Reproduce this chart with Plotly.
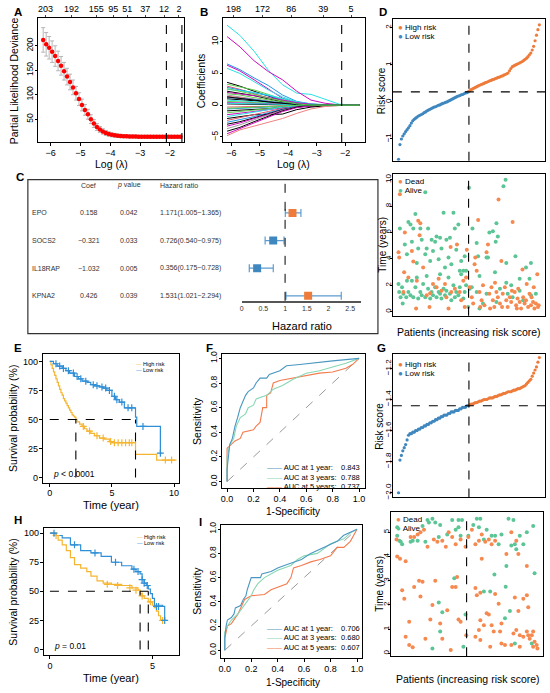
import plotly.graph_objects as go

W, H = 550, 693
FONT = "Arial, Liberation Sans, sans-serif"

# ---------------- A: cross-validation deviance ----------------
log_lambda = [-6.25, -6.15, -6.05, -5.95, -5.85, -5.75, -5.65, -5.55, -5.45, -5.35,
              -5.25, -5.15, -5.05, -4.95, -4.85, -4.75, -4.65, -4.55, -4.45, -4.35,
              -4.25, -4.15, -4.05, -3.95, -3.85, -3.75, -3.65, -3.55, -3.45, -3.35,
              -3.25, -3.15, -3.05, -2.95, -2.85, -2.75, -2.65, -2.55, -2.45, -2.35,
              -2.25, -2.15, -2.05, -1.95, -1.85, -1.75, -1.65]
deviance = [212, 203, 196, 188, 179, 169, 159, 148, 137, 126,
            115, 103, 91, 79, 69, 60, 50, 41, 34, 29,
            25, 22, 19.5, 18, 17, 16.2, 15.6, 15.2, 14.9, 14.7,
            14.5, 14.4, 14.3, 14.2, 14.2, 14.1, 14.1, 14.0, 14.0, 14.0,
            14.0, 14.0, 14.0, 14.0, 14.0, 14.0, 14.0]
deviance_err = [25, 24, 23, 22, 21, 20, 19, 18, 17, 16,
                15, 14, 13, 12, 11, 10, 9, 8, 7, 6,
                5.5, 5, 4.5, 4, 4, 3.5, 3.5, 3, 3, 3,
                3, 3, 3, 3, 3, 3, 3, 3, 3, 3,
                3, 3, 3, 3, 3, 3, 3]
nz_pos_a = [-6.17, -5.3, -4.47, -3.9, -3.43, -2.83, -2.2, -1.7]
nz_lab_a = ["203", "192", "155", "95", "51", "37", "12", "2"]
lambda_min = -2.12
lambda_1se = -1.6

# ---------------- B: coefficient paths ----------------
coef_knots = [-6.15, -5.7, -5.2, -4.7, -4.2, -3.7, -3.2, -2.7, -2.2, -1.5]
coef_paths = [
    [12.6, 11.0, 8.5, 5.5, 3.2, 1.9, 1.7, 0.9, 0.15, 0],
    [10.8, 9.2, 7.0, 5.3, 4.0, 2.2, 0.8, 0.3, 0.05, 0],
    [6.5, 5.6, 4.3, 3.1, 1.6, 0.6, 0.2, 0, 0, 0],
    [6.3, 5.4, 4.0, 2.6, 1.1, 0.4, 0.1, 0, 0, 0],
    [5.8, 5.0, 3.7, 2.4, 1.3, 0.5, 0.1, 0, 0, 0],
    [3.6, 3.0, 2.2, 1.4, 0.7, 0.2, 0, 0, 0, 0],
    [3.3, 2.9, 2.4, 1.7, 0.9, 0.3, 0, 0, 0, 0],
    [3.0, 2.5, 1.8, 1.1, 0.5, 0.1, 0, 0, 0, 0],
    [2.8, 2.4, 2.0, 1.5, 0.8, 0.3, 0.05, 0, 0, 0],
    [2.5, 2.3, 2.0, 1.6, 1.0, 0.5, 0.2, 0.05, 0, 0],
    [2.2, 1.9, 1.5, 1.0, 0.5, 0.2, 0, 0, 0, 0],
    [2.0, 1.8, 1.5, 1.2, 0.8, 0.4, 0.15, 0.05, 0, 0],
    [1.8, 1.6, 1.2, 0.8, 0.4, 0.1, 0, 0, 0, 0],
    [1.6, 1.3, 1.0, 0.7, 0.3, 0.1, 0, 0, 0, 0],
    [1.4, 1.2, 0.9, 0.6, 0.3, 0.1, 0, 0, 0, 0],
    [1.2, 1.1, 0.9, 0.6, 0.35, 0.15, 0.05, 0, 0, 0],
    [1.0, 0.9, 0.7, 0.5, 0.3, 0.1, 0.05, 0.02, 0.01, 0],
    [0.8, 0.7, 0.55, 0.4, 0.2, 0.05, 0, 0, 0, 0],
    [0.6, 0.5, 0.4, 0.3, 0.15, 0.05, 0, 0, 0, 0],
    [0.4, 0.35, 0.3, 0.2, 0.1, 0.03, 0, 0, 0, 0],
    [0.2, 0.2, 0.15, 0.1, 0.05, 0, 0, 0, 0, 0],
    [-0.3, -0.25, -0.2, -0.15, -0.08, -0.02, 0, 0, 0, 0],
    [-0.6, -0.5, -0.4, -0.3, -0.15, -0.05, 0, 0, 0, 0],
    [-0.9, -0.8, -0.7, -0.55, -0.35, -0.2, -0.1, -0.05, -0.02, 0],
    [-1.2, -1.0, -0.8, -0.6, -0.3, -0.1, 0, 0, 0, 0],
    [-1.5, -1.3, -1.0, -0.7, -0.4, -0.2, -0.1, -0.03, 0, 0],
    [-1.8, -1.5, -1.1, -0.7, -0.3, -0.1, 0, 0, 0, 0],
    [-2.1, -1.8, -1.5, -1.5, -1.4, -0.7, -0.3, -0.1, -0.03, 0],
    [-2.4, -2.0, -1.5, -1.0, -0.5, -0.2, 0, 0, 0, 0],
    [-2.7, -2.3, -1.8, -1.2, -0.6, -0.2, 0, 0, 0, 0],
    [-3.0, -2.6, -2.0, -1.3, -0.7, -0.3, -0.1, 0, 0, 0],
    [-3.3, -2.8, -2.1, -1.4, -0.8, -0.3, -0.05, 0, 0, 0],
    [-3.7, -3.1, -2.3, -1.5, -0.8, -0.3, 0, 0, 0, 0],
    [-4.1, -3.5, -2.6, -1.7, -0.9, -0.3, 0, 0, 0, 0],
    [-4.8, -3.9, -3.3, -2.7, -2.1, -1.3, -0.6, -0.2, -0.05, 0],
    [-4.5, -3.7, -2.8, -1.8, -1.0, -0.4, -0.1, 0, 0, 0],
    [-0.5, -0.4, -0.3, -0.2, -0.1, -0.03, 0, 0, 0, 0],
    [0.3, 0.25, 0.2, 0.15, 0.1, 0.04, 0.01, 0, 0, 0],
    [1.3, 1.1, 0.8, 0.5, 0.25, 0.1, 0, 0, 0, 0],
    [2.6, 2.2, 1.7, 1.1, 0.6, 0.2, 0, 0, 0, 0],
]
nz_pos_b = [-5.92, -4.9, -3.89, -2.77, -1.79]
nz_lab_b = ["198", "172", "86", "39", "5"]

# R 4 palette colours for the paths
BLK, PNK, GRN, BLU, CYN, MAG, GRY = "#000000", "#DF536B", "#61D04F", "#2297E6", "#28E2E5", "#CD0BBC", "#9E9E9E"
coef_colors = [CYN, MAG, BLU, MAG, CYN, BLK, GRN, PNK, BLU, CYN,
               BLK, MAG, GRN, GRY, PNK, BLU, BLK, CYN, GRN, MAG,
               BLK, PNK, BLU, BLK, GRN, MAG, CYN, BLK, PNK, BLU,
               BLK, MAG, GRY, BLK, "#F08080", MAG, GRN, CYN, BLK, GRN]

# ---------------- C: multivariate Cox ----------------
genes = ["EPO", "SOCS2", "IL18RAP", "KPNA2"]
coef_txt = ["0.158", "\u22120.321", "\u22121.032", "0.426"]
p_txt = ["0.042", "0.033", "0.005", "0.039"]
hr = [1.171, 0.726, 0.356, 1.531]
hr_lo = [1.005, 0.540, 0.175, 1.021]
hr_hi = [1.365, 0.975, 0.728, 2.294]
hr_ticks = [0, 0.5, 1, 1.5, 2, 2.5]

# ---------------- D / G: risk score curves (training / validation) ----------------
risk_d_low = [-1.55, -1.15, -1.0, -0.92, -0.86, -0.8, -0.75, -0.7, -0.64, -0.57,
              -0.51, -0.47, -0.44, -0.41, -0.38, -0.36, -0.34, -0.32, -0.29, -0.27,
              -0.24, -0.22, -0.2, -0.18, -0.16, -0.14, -0.13, -0.11, -0.09, -0.08,
              -0.06, -0.04, -0.03, -0.01, 0.0, 0.02, 0.04, 0.06, 0.08, 0.1,
              0.12, 0.14, 0.16, 0.17, 0.19, 0.2, 0.22, 0.24, 0.25, 0.27]
risk_d_high = [0.3, 0.33, 0.35, 0.37, 0.39, 0.41, 0.43, 0.45, 0.47, 0.48,
               0.5, 0.52, 0.53, 0.55, 0.57, 0.58, 0.6, 0.61, 0.63, 0.64,
               0.66, 0.67, 0.69, 0.7, 0.72, 0.74, 0.76, 0.78, 0.84, 0.9,
               0.95, 0.97, 0.99, 1.01, 1.03, 1.05, 1.07, 1.09, 1.12, 1.15,
               1.18, 1.22, 1.27, 1.32, 1.4, 1.5, 1.65, 1.8, 1.95, 2.08]
cut_d = 0.27
risk_g_low = [-2.0, -1.79, -1.76, -1.73, -1.71, -1.69, -1.66, -1.63, -1.62, -1.62,
              -1.61, -1.61, -1.6, -1.6, -1.59, -1.59, -1.58, -1.58, -1.57, -1.57,
              -1.56, -1.56, -1.55, -1.55, -1.54, -1.54, -1.53, -1.53, -1.52, -1.52,
              -1.51, -1.51, -1.5, -1.5, -1.5, -1.49, -1.49, -1.48, -1.48, -1.48,
              -1.47, -1.47, -1.47, -1.46, -1.46, -1.45, -1.45, -1.45, -1.44, -1.44]
risk_g_high = [-1.435, -1.43, -1.43, -1.425, -1.42, -1.42, -1.415, -1.41, -1.41, -1.405,
               -1.4, -1.4, -1.4, -1.395, -1.39, -1.39, -1.39, -1.385, -1.38, -1.38,
               -1.375, -1.37, -1.37, -1.365, -1.36, -1.36, -1.355, -1.35, -1.35, -1.35,
               -1.345, -1.34, -1.34, -1.335, -1.33, -1.33, -1.325, -1.32, -1.315, -1.31,
               -1.3, -1.29, -1.28, -1.27, -1.25, -1.23, -1.21, -1.19, -1.16, -1.13]
cut_g = -1.44

# ---------------- D / G: survival status by patient rank ----------------
d_dead_rank = [0, 1, 2, 7, 8, 9, 14, 19, 21, 25, 26, 28, 30, 31, 35, 40, 44, 45, 49, 54,
               57, 61, 66, 68, 71, 74, 75, 80, 83, 87, 89, 92, 94, 96, 97,
               101, 104, 106, 108, 109, 111, 113, 115, 116, 118, 120, 122, 125, 127, 129,
               130, 132, 134, 136, 137, 139, 141, 142, 144, 146, 147, 148, 151, 153, 155,
               158, 160, 161, 162, 165, 167, 168, 169, 170, 172, 174, 176, 177, 179, 181,
               182, 184, 186, 188, 189, 191, 192, 193, 195, 197, 198, 199]
d_dead_time = [4.5, 4.1, 8.9, 1.5, 3.0, 6.0, 2.6, 4.6, 3.8, 0.25, 2.35, 6.9, 5.8, 6.7, 3.35, 1.25, 0.37, 1.4, 2.1, 1.85,
               2.5, 1.6, 2.1, 1.1, 0.25, 4.9, 1.5, 1.75, 5.1, 1.5, 0.87, 2.35, 0.37, 2.6, 4.7,
               1.85, 1.1, 0.62, 3.6, 4.1, 3.1, 6.95, 1.5, 0.37, 0.87, 2.0, 0.5, 4.5, 5.1, 1.36,
               0.25, 1.86, 0.87, 0.37, 2.2, 1.5, 1.1, 8.5, 0.62, 3.85, 0.37, 1.36, 1.86, 0.87, 0.37,
               1.1, 0.74, 1.6, 6.8, 1.5, 0.5, 0.25, 1.0, 1.75, 0.74, 0.25, 3.2, 1.1, 0.62, 0.87,
               2.1, 0.37, 1.36, 0.5, 1.1, 0.74, 1.86, 0.25, 0.62, 2.85, 0.37, 0.5]
d_alive_rank = [0, 1, 2, 3, 5, 6, 7, 9, 11, 12, 12, 14, 14, 17, 17, 19, 19, 21, 21, 24,
                24, 26, 26, 28, 28, 31, 31, 33, 33, 35, 38, 38, 38, 40, 40, 42, 42, 45, 45, 47,
                47, 49, 49, 52, 52, 54, 54, 57, 57, 59, 59, 59, 61, 61, 64, 64, 66, 66, 68, 68,
                71, 71, 73, 73, 75, 75, 78, 78, 80, 80, 82, 82, 85, 85, 87, 87, 89, 89, 92, 92,
                94, 94, 96, 96,
                99, 100, 101, 104, 105, 111, 111, 113, 115, 115, 120, 125, 125, 127, 129, 134,
                137, 138, 139, 139, 141, 144, 149, 152, 153, 153, 155, 160, 162, 166, 172, 172,
                177, 181, 186, 188, 188, 195]
d_alive_time = [2.1, 1.5, 6.3, 1.1, 1.86, 0.62, 1.36, 5.1, 1.1, 4.35, 2.35, 6.8, 1.5, 6.6, 1.25, 5.3, 2.35, 6.3, 1.1, 7.4,
                1.86, 3.7, 2.6, 4.8, 1.0, 6.3, 1.5, 5.45, 1.25, 2.1, 9.05, 4.35, 1.1, 4.8, 2.7, 6.3, 1.75, 3.85, 1.0, 5.45,
                1.5, 4.6, 1.25, 5.3, 1.86, 5.7, 1.1, 3.97, 1.5, 5.6, 2.85, 1.36, 4.8, 1.0, 7.5, 1.75, 3.35, 1.25, 5.45, 1.6,
                4.1, 2.6, 5.6, 1.36, 3.6, 0.87, 7.5, 2.0, 6.3, 1.1, 4.7, 1.5, 6.6, 1.25, 3.1, 1.86, 3.85, 2.85, 3.1, 1.0,
                4.2, 1.5, 3.1, 2.0,
                0.37, 9.4, 1.75, 1.86, 6.3, 5.2, 1.5, 4.2, 2.7, 0.25, 0.62, 4.1, 1.36, 4.1, 6.0, 6.1,
                3.0, 5.3, 6.7, 0.74, 5.7, 1.75, 9.5, 10.0, 3.7, 2.2, 1.36, 2.0, 1.1, 4.2, 2.5, 1.6,
                0.87, 3.35, 2.5, 3.7, 1.25, 1.36]
g_dead_rank = [0, 1, 5, 8, 11, 13, 13, 18, 18, 20, 23, 25, 25, 30, 32, 34, 34, 37, 39, 41,
               44, 48, 51, 53, 55, 58, 62, 65, 65, 70, 72, 74, 77, 79, 79, 84, 84, 86, 88, 91,
               91, 98, 99, 102, 107, 112, 112, 112, 114, 117, 117, 119, 119, 119, 121, 121, 124, 126, 128, 131,
               131, 133, 135, 135, 138, 140, 140, 145, 147, 149, 149, 154, 156, 163, 163, 166, 168, 170, 170, 173,
               173, 175, 175, 180, 180, 185, 185, 185, 187, 187, 189, 192, 194, 194, 196, 199, 200]
g_dead_time = [4.7, 4.0, 3.9, 2.6, 2.25, 3.8, 0.68, 1.3, 0.34, 4.8, 0.25, 2.74, 4.8, 4.9, 3.0, 2.35, 5.0, 2.95, 5.1, 0.6,
               4.4, 1.4, 2.0, 4.7, 3.0, 4.6, 1.23, 0.6, 4.65, 4.4, 1.78, 5.0, 0.14, 2.74, 4.8, 2.74, 4.5, 3.15, 1.4, 1.3,
               4.7, 4.4, 0.75, 4.8, 5.1, 4.5, 2.7, 0.68, 2.4, 4.65, 0.96, 2.5, 1.37, 0.55, 4.9, 3.9, 1.16, 4.6, 1.65, 4.7,
               1.6, 0.27, 4.5, 1.16, 0.9, 4.65, 2.45, 2.05, 0.9, 1.23, 0.41, 0.34, 4.1, 5.0, 0.34, 0.82, 2.3, 4.65, 0.96, 4.1,
               1.75, 0.75, 0.27, 2.25, 0.68, 3.6, 2.4, 0.9, 1.9, 0.75, 0.6, 0.75, 0.9, 0.27, 0.48, 0.34, 0.2]
g_alive_rank = [1, 1, 4, 6, 8, 20, 23, 30, 37, 41, 44, 46, 51, 51, 55, 60, 60, 62, 62, 65,
                72, 79, 82, 84, 88, 88, 91, 93, 95, 98, 102, 109, 114, 117, 119, 124, 124, 128, 133, 135,
                139, 140, 145, 149, 154, 155, 156, 159, 161, 163, 166, 168, 168, 170, 175, 180, 185, 192, 194, 196]
g_alive_time = [5.2, 4.85, 4.65, 4.6, 4.5, 4.6, 4.65, 4.65, 5.25, 4.6, 5.5, 5.4, 5.55, 0.2, 5.4, 4.8, 2.1, 5.3, 0.9, 1.7,
                4.9, 5.5, 3.1, 5.1, 5.5, 5.2, 4.85, 5.5, 0.27, 1.6, 4.85, 5.3, 5.55, 5.2, 5.55, 4.7, 2.55, 5.1, 2.55, 4.85,
                3.25, 4.85, 4.5, 4.9, 1.45, 2.75, 3.6, 5.55, 1.75, 4.45, 5.5, 4.5, 0.41, 4.3, 4.85, 4.5, 5.0, 0.41, 5.25, 3.3]
rank_cut = 99.5

# ---------------- E / H: Kaplan-Meier ----------------
e_high_t = [0, 0.1, 0.2, 0.3, 0.4, 0.5, 0.6, 0.7, 0.8, 0.9, 1.0, 1.1, 1.2, 1.3, 1.4, 1.5, 1.6, 1.7,
            1.8, 1.9, 2.0, 2.1, 2.2, 2.4, 2.6, 2.8, 3.0, 3.3, 3.6, 4.0, 4.4, 4.8, 5.0, 6.9, 8.6, 10.2]
e_high_s = [100, 97, 94, 91, 88, 85, 82, 79, 76, 73, 71, 68, 66, 64, 62, 60, 58, 56,
            54, 53, 52, 50, 48, 46, 44, 42, 40, 38, 36, 34, 33, 31, 30, 20, 15, 15]
e_low_t = [0, 0.3, 0.6, 1.0, 1.3, 1.6, 2.0, 2.3, 2.6, 3.0, 3.3, 3.6, 4.0, 4.3, 4.6, 5.0,
           5.3, 5.6, 6.0, 6.8, 6.9, 7.0, 8.9, 9.0]
e_low_s = [100, 98, 96, 94, 92, 90, 87, 85, 83, 82, 80, 79, 78, 77, 75, 70,
           67, 65, 60, 60, 52, 44, 21, 21]
e_high_cens_t = [2.7, 3.2, 3.8, 4.3, 4.9, 5.2, 5.5, 5.8, 6.1, 6.4, 6.6, 9.3, 9.8]
e_high_cens_s = [44, 40, 36, 34, 31, 30, 30, 30, 30, 30, 30, 15, 15]
e_low_cens_t = [0.5, 0.8, 1.1, 1.5, 1.9, 2.2, 2.5, 2.9, 3.5, 3.8, 4.2, 4.5, 4.8, 5.2, 5.4, 5.8, 6.3, 6.6, 7.5, 8.9]
e_low_cens_s = [98, 96, 94, 92, 90, 87, 85, 83, 80, 79, 78, 77, 75, 70, 67, 65, 60, 60, 44, 21]
e_median = [2.1, 6.9]
e_pval = "<i>p</i> < 0.0001"

h_high_t = [0, 0.2, 0.4, 0.6, 0.8, 1.0, 1.2, 1.5, 1.8, 2.0, 2.3, 2.6, 3.0, 3.5, 4.0, 4.3,
            4.4, 4.5, 4.6, 4.8, 5.0, 5.1, 5.2, 5.3, 5.4, 5.7]
h_high_s = [100, 98, 94, 90, 85, 79, 73, 70, 67, 63, 59, 57, 56, 55, 53, 51,
            48, 46, 44, 41, 38, 36, 33, 29, 25, 25]
h_low_t = [0, 0.3, 0.6, 1.0, 1.5, 2.0, 2.5, 3.0, 3.5, 4.0, 4.2, 4.4, 4.5, 4.6, 4.7, 4.8,
           4.9, 5.0, 5.1, 5.5, 5.6]
h_low_s = [100, 98, 96, 90, 85, 83, 80, 75, 72, 69, 67, 65, 60, 57, 55, 52,
           48, 44, 38, 37, 25]
h_high_cens_t = [0.3, 2.8, 3.3, 3.9, 4.2, 4.5, 4.9, 5.5]
h_high_cens_s = [98, 56, 55, 53, 51, 46, 41, 25]
h_low_cens_t = [0.2, 1.2, 2.2, 3.2, 4.1, 4.3, 4.5, 4.6, 4.75, 5.2, 5.3, 5.6]
h_low_cens_s = [100, 90, 83, 75, 69, 67, 60, 57, 55, 37, 37, 25]
h_median = [4.4, 4.8]
h_pval = "<i>p</i> = 0.01"

# ---------------- F / I: time-dependent ROC ----------------
roc_years = ["AUC at 1 year:", "AUC at 3 years:", "AUC at 5 years:"]
auc_f = ["0.843", "0.788", "0.737"]
auc_i = ["0.706", "0.680", "0.607"]
f_fpr = [
    [0, 0, 0.01, 0.02, 0.04, 0.06, 0.08, 0.1, 0.12, 0.14, 0.16, 0.2, 0.22, 0.25, 0.3, 0.32, 0.4, 0.45, 0.55, 0.7, 0.8, 0.9, 1],
    [0, 0, 0.02, 0.05, 0.07, 0.1, 0.14, 0.16, 0.2, 0.22, 0.3, 0.35, 0.42, 0.45, 0.5, 0.6, 0.7, 0.8, 0.9, 1],
    [0, 0, 0.03, 0.06, 0.1, 0.12, 0.2, 0.22, 0.25, 0.27, 0.3, 0.3, 0.33, 0.35, 0.4, 0.5, 0.6, 0.7, 0.8, 0.9, 0.95, 1],
]
f_tpr = [
    [0, 0.1, 0.2, 0.3, 0.35, 0.45, 0.52, 0.6, 0.65, 0.7, 0.73, 0.76, 0.8, 0.84, 0.84, 0.87, 0.9, 0.94, 0.95, 0.97, 0.98, 0.99, 1],
    [0, 0.2, 0.3, 0.35, 0.45, 0.52, 0.55, 0.6, 0.62, 0.67, 0.7, 0.75, 0.78, 0.8, 0.83, 0.88, 0.9, 0.93, 0.96, 1],
    [0, 0.27, 0.3, 0.33, 0.35, 0.4, 0.42, 0.45, 0.48, 0.6, 0.6, 0.7, 0.72, 0.8, 0.82, 0.84, 0.86, 0.88, 0.89, 0.92, 0.95, 1],
]
i_fpr = [
    [0, 0, 0.01, 0.02, 0.05, 0.07, 0.08, 0.12, 0.14, 0.16, 0.17, 0.19, 0.2, 0.27, 0.28, 0.35, 0.4, 0.45, 0.5, 0.58, 0.65, 0.75, 0.85, 0.9, 1],
    [0, 0, 0.02, 0.05, 0.1, 0.15, 0.2, 0.22, 0.25, 0.3, 0.4, 0.5, 0.55, 0.6, 0.7, 0.8, 0.9, 0.95, 1],
    [0, 0, 0.02, 0.05, 0.1, 0.13, 0.15, 0.2, 0.3, 0.35, 0.4, 0.47, 0.5, 0.52, 0.58, 0.65, 0.72, 0.8, 0.85, 0.9, 0.95, 1],
]
i_tpr = [
    [0, 0.1, 0.2, 0.25, 0.27, 0.3, 0.35, 0.37, 0.42, 0.45, 0.5, 0.56, 0.6, 0.6, 0.63, 0.65, 0.68, 0.7, 0.72, 0.75, 0.8, 0.85, 0.9, 0.95, 1],
    [0, 0.15, 0.2, 0.25, 0.3, 0.38, 0.45, 0.5, 0.55, 0.6, 0.66, 0.7, 0.75, 0.78, 0.8, 0.88, 0.92, 0.97, 1],
    [0, 0.1, 0.2, 0.22, 0.3, 0.37, 0.42, 0.45, 0.46, 0.5, 0.52, 0.55, 0.6, 0.68, 0.7, 0.73, 0.75, 0.78, 0.85, 0.85, 0.9, 1],
]
chance = [0, 1]

# ---------------- colours ----------------
C_HIGH, C_LOW = "#EE7B3A", "#3F87BF"
C_DEAD, C_ALIVE = "#F5894F", "#5CC595"
KM_HIGH, KM_LOW = "#F6B530", "#2F8FD6"
ROC_COLS = ["#4A97C2", "#86D7B4", "#F47B4E"]


def dom_x(l, r):
    return [l / W, r / W]


def dom_y(t, b):
    return [1 - b / H, 1 - t / H]


def px(x):
    return x / W


def py(y):
    return 1 - y / H


def box_axis(**kw):
    d = dict(showline=True, linecolor="black", linewidth=1, mirror=True,
             ticks="outside", ticklen=3, tickcolor="black", showgrid=False,
             zeroline=False, ticklabelstandoff=-1, tickfont=dict(size=9, color="black", family=FONT))
    d.update(kw)
    return d


def rot_y(**kw):
    # R style: labels on the y axis turned to read upward, close to the axis
    d = box_axis(tickangle=-90, ticklen=2, ticklabelstandoff=-2,
                 tickfont=dict(size=8.5, color="black", family=FONT))
    d.update(kw)
    return d


fig = go.Figure()
annotations = []
shapes = []


def label(x, y, text, size=10.5, angle=0, anchor="center", color="black", bold=False):
    annotations.append(dict(x=px(x), y=py(y), xref="paper", yref="paper", text=("<b>%s</b>" % text) if bold else text,
                            showarrow=False, textangle=angle, xanchor=anchor, yanchor="middle",
                            font=dict(size=size, color=color, family=FONT)))


def vline(xref, x, yref_dom, y0=0, y1=1, color="black", width=1.1, dash="dash"):
    shapes.append(dict(type="line", xref=xref, yref=yref_dom, x0=x, x1=x, y0=y0, y1=y1,
                       line=dict(color=color, width=width, dash=dash)))


def hline(yref, y, xref_dom, x0=0, x1=1, color="black", width=1.1, dash="dash"):
    shapes.append(dict(type="line", yref=yref, xref=xref_dom, y0=y, y1=y, x0=x0, x1=x1,
                       line=dict(color=color, width=width, dash=dash)))


# ---- A ----
fig.add_trace(go.Scatter(x=log_lambda, y=deviance, mode="markers", xaxis="x", yaxis="y",
                         marker=dict(color="red", size=4.5),
                         error_y=dict(type="data", array=deviance_err, color="#B5B5B5", thickness=1, width=2)))
fig.add_trace(go.Scatter(x=log_lambda, y=deviance, mode="markers", xaxis="x12", yaxis="y",
                         marker=dict(opacity=0), hoverinfo="skip"))
vline("x", lambda_min, "y domain")
vline("x", lambda_1se, "y domain")

# ---- B ----
for path, col in zip(coef_paths, coef_colors):
    fig.add_trace(go.Scatter(x=coef_knots, y=path, mode="lines", xaxis="x2", yaxis="y2",
                             line=dict(color=col, width=1)))
fig.add_trace(go.Scatter(x=coef_knots, y=coef_paths[0], mode="markers", xaxis="x13", yaxis="y2",
                         marker=dict(opacity=0), hoverinfo="skip"))
vline("x2", lambda_min, "y2 domain")

# ---- D top / G top: risk curves ----
for risk_low, risk_high, xa, ya, cut in [(risk_d_low, risk_d_high, "x3", "y3", cut_d),
                                        (risk_g_low, risk_g_high, "x8", "y8", cut_g)]:
    n_low = len(risk_low)
    fig.add_trace(go.Scatter(x=list(range(n_low)), y=risk_low, mode="markers", xaxis=xa, yaxis=ya,
                             marker=dict(color=C_LOW, size=3.2)))
    fig.add_trace(go.Scatter(x=list(range(n_low, n_low + len(risk_high))), y=risk_high, mode="markers",
                             xaxis=xa, yaxis=ya, marker=dict(color=C_HIGH, size=3.2)))
    vline(xa, n_low - 0.5, ya + " domain")
    hline(ya, cut, xa + " domain")

# ---- D bottom / G bottom: status scatter ----
for dr, dt, ar, at, xa, ya in [(d_dead_rank, d_dead_time, d_alive_rank, d_alive_time, "x4", "y4"),
                               (g_dead_rank, g_dead_time, g_alive_rank, g_alive_time, "x9", "y9")]:
    fig.add_trace(go.Scatter(x=ar, y=at, mode="markers", xaxis=xa, yaxis=ya,
                             marker=dict(color=C_ALIVE, size=4)))
    fig.add_trace(go.Scatter(x=dr, y=dt, mode="markers", xaxis=xa, yaxis=ya,
                             marker=dict(color=C_DEAD, size=4)))
    vline(xa, rank_cut, ya + " domain")

# ---- C: forest ----
rows = list(range(len(genes) - 1, -1, -1))
fig.add_trace(go.Scatter(
    x=hr, y=rows, mode="markers", xaxis="x5", yaxis="y5",
    marker=dict(symbol="square", size=8, color=[C_HIGH if v > 1 else C_LOW for v in hr]),
    error_x=dict(type="data", symmetric=False,
                 array=[h - v for h, v in zip(hr_hi, hr)],
                 arrayminus=[v - l for v, l in zip(hr, hr_lo)],
                 color="#5C9BD1", thickness=1.2, width=4)))
vline("x5", 1, "y5 domain", width=1)
shapes.append(dict(type="rect", xref="paper", yref="paper", x0=px(26), x1=px(378), y0=py(333), y1=py(178),
                   line=dict(color="#333333", width=1.2)))
table_x = [(28, "left"), (87, "center"), (128, "center"), (157, "left")]
heads = ["", "Coef", "<i>p</i> value", "Hazard ratio"]
for (xx, anc), txt in zip(table_x, heads):
    if txt:
        annotations.append(dict(x=px(xx), y=4.0, xref="paper", yref="y5", text=txt, showarrow=False,
                                xanchor=anc, font=dict(size=7, color="#333333", family=FONT)))
for g, c, p, v, lo, hi, r in zip(genes, coef_txt, p_txt, hr, hr_lo, hr_hi, rows):
    cells = [g, c, p, "%.3f(%.3f\u2212%.3f)" % (v, lo, hi)]
    for (xx, anc), txt in zip(table_x, cells):
        annotations.append(dict(x=px(xx), y=r, xref="paper", yref="y5", text=txt, showarrow=False,
                                xanchor=anc, font=dict(size=7, color="#333333", family=FONT)))

# ---- E / H: KM ----
for (ht, hs, lt, ls, hct, hcs, lct, lcs, med, pv, xa, ya) in [
        (e_high_t, e_high_s, e_low_t, e_low_s, e_high_cens_t, e_high_cens_s, e_low_cens_t, e_low_cens_s,
         e_median, e_pval, "x6", "y6"),
        (h_high_t, h_high_s, h_low_t, h_low_s, h_high_cens_t, h_high_cens_s, h_low_cens_t, h_low_cens_s,
         h_median, h_pval, "x10", "y10")]:
    fig.add_trace(go.Scatter(x=ht, y=hs, mode="lines", line_shape="hv", xaxis=xa, yaxis=ya,
                             line=dict(color=KM_HIGH, width=1.2)))
    fig.add_trace(go.Scatter(x=lt, y=ls, mode="lines", line_shape="hv", xaxis=xa, yaxis=ya,
                             line=dict(color=KM_LOW, width=1.2)))
    fig.add_trace(go.Scatter(x=hct, y=hcs, mode="markers", xaxis=xa, yaxis=ya,
                             marker=dict(symbol="cross-thin", size=5, line=dict(color=KM_HIGH, width=1.2))))
    fig.add_trace(go.Scatter(x=lct, y=lcs, mode="markers", xaxis=xa, yaxis=ya,
                             marker=dict(symbol="cross-thin", size=5, line=dict(color=KM_LOW, width=1.2))))
    shapes.append(dict(type="line", xref=xa, yref=ya, x0=0, x1=max(med), y0=50, y1=50,
                       line=dict(color="black", width=1.1, dash="dash")))
    for m in med:
        shapes.append(dict(type="line", xref=xa, yref=ya, x0=m, x1=m, y0=0, y1=50,
                           line=dict(color="black", width=1.1, dash="dash")))
    annotations.append(dict(x=0.1, y=3, xref=xa, yref=ya, text=pv, showarrow=False, xanchor="left",
                            yanchor="middle", font=dict(size=8.5, color="black", family=FONT)))

# ---- F / I: ROC ----
for fprs, tprs, xa, ya in [(f_fpr, f_tpr, "x7", "y7"), (i_fpr, i_tpr, "x11", "y11")]:
    fig.add_trace(go.Scatter(x=chance, y=chance, mode="lines", xaxis=xa, yaxis=ya,
                             line=dict(color="#9A9A9A", width=1, dash="dash")))
    for k in [2, 1, 0]:
        fig.add_trace(go.Scatter(x=fprs[k], y=tprs[k], mode="lines", xaxis=xa, yaxis=ya,
                                 line=dict(color=ROC_COLS[k], width=1.1)))

# ---------------- axes ----------------
top_ax = dict(side="top", anchor="y", ticks="outside", ticklen=2, showline=False, showgrid=False,
              zeroline=False, ticklabelstandoff=-1, tickfont=dict(size=9, color="black", family=FONT))
ticks01 = [0, 0.2, 0.4, 0.6, 0.8, 1.0]
# the narrow gutter left of D and G needs the labels pulled right up to the axis
tight = dict(ticklabelstandoff=-4, tickfont=dict(size=8, color="black", family=FONT))
lay = dict(
    xaxis=box_axis(domain=dom_x(36, 183), range=[-6.43, -1.53], tickvals=[-6, -5, -4, -3, -2], anchor="y"),
    yaxis=rot_y(domain=dom_y(15, 140), range=[3.4, 257], tickvals=[50, 100, 150, 200], anchor="x"),
    xaxis12=dict(top_ax, overlaying="x", range=[-6.43, -1.53], tickvals=nz_pos_a, ticktext=nz_lab_a),
    xaxis2=box_axis(domain=dom_x(222, 365), range=[-6.3, -1.3], tickvals=[-6, -5, -4, -3, -2], anchor="y2"),
    yaxis2=rot_y(domain=dom_y(15, 140), range=[-5.8, 13.75], tickvals=[-5, 0, 5, 10], anchor="x2"),
    xaxis13=dict(top_ax, overlaying="x2", anchor="y2", range=[-6.3, -1.3], tickvals=nz_pos_b, ticktext=nz_lab_b),
    xaxis3=box_axis(domain=dom_x(393, 546), range=[-4, 103], showticklabels=False, ticks="", anchor="y3"),
    yaxis3=rot_y(domain=dom_y(16, 159), range=[-1.59, 2.24], tickvals=[-1, 0, 1, 2], anchor="x3", **tight),
    xaxis4=box_axis(domain=dom_x(393, 546), range=[-8, 208], showticklabels=False, ticks="", anchor="y4"),
    yaxis4=rot_y(domain=dom_y(172, 315), range=[-0.3, 10.45], tickvals=[0, 2, 4, 6, 8, 10], anchor="x4", **tight),
    xaxis5=dict(domain=dom_x(241, 361), range=[0, 2.75], tickvals=hr_ticks, ticktext=[str(t) for t in hr_ticks],
                showline=True, linecolor="#555555", linewidth=1.6, ticks="", showgrid=False, zeroline=False,
                anchor="y5", tickfont=dict(size=7, color="#333333", family=FONT)),
    yaxis5=dict(domain=dom_y(178, 300), range=[-0.18, 4.2], visible=False, anchor="x5"),
    xaxis6=box_axis(domain=dom_x(41, 178), range=[-0.56, 10.4], tickvals=[0, 5, 10], anchor="y6"),
    yaxis6=box_axis(domain=dom_y(354, 483), range=[-4.3, 106], tickvals=[0, 25, 50, 75, 100], anchor="x6"),
    xaxis7=box_axis(domain=dom_x(221, 365), range=[-0.04, 1.045], tickvals=ticks01, tickformat=".1f", anchor="y7"),
    yaxis7=rot_y(domain=dom_y(354, 489), range=[-0.056, 1.032], tickvals=ticks01, tickformat=".1f", anchor="x7"),
    xaxis8=box_axis(domain=dom_x(393, 546), range=[-4, 103], showticklabels=False, ticks="", anchor="y8"),
    yaxis8=rot_y(domain=dom_y(354, 498), range=[-2.03, -1.11], tickvals=[-2.0, -1.8, -1.6, -1.4, -1.2],
                 tickformat=".1f", anchor="x8", **tight),
    xaxis9=box_axis(domain=dom_x(391, 544), range=[-8, 208], showticklabels=False, ticks="", anchor="y9"),
    yaxis9=rot_y(domain=dom_y(513, 658), range=[-0.12, 5.82], tickvals=[0, 1, 2, 3, 4, 5], anchor="x9", **tight),
    xaxis10=box_axis(domain=dom_x(42, 178), range=[-0.3, 6.3], tickvals=[0, 5], anchor="y10"),
    yaxis10=box_axis(domain=dom_y(529, 657), range=[-5, 104.3], tickvals=[0, 25, 50, 75, 100], anchor="x10"),
    xaxis11=box_axis(domain=dom_x(220, 362), range=[-0.03, 1.038], tickvals=ticks01, tickformat=".1f", anchor="y11"),
    yaxis11=rot_y(domain=dom_y(526, 660), range=[-0.066, 1.033], tickvals=ticks01, tickformat=".1f", anchor="x11"),
)

# ---------------- titles, letters, legends ----------------
for x, y, t in [(10, 9, "A"), (197, 9, "B"), (377, 9, "D"), (12, 175, "C"), (10, 348, "E"),
                (203, 348, "F"), (375, 348, "G"), (10, 521, "H"), (196, 523, "I")]:
    label(x, y, t, size=11.5, bold=True, anchor="left")

label(13, 78, "Partial Likelihood Deviance", angle=-90)
label(110, 162, "Log (\u03bb)")
label(201, 78, "Coefficients", angle=-90)
label(293, 162, "Log (\u03bb)")
label(381, 88, "Risk score", size=10, angle=-90)
label(382.5, 243, "Time (years)", size=10, angle=-90)
label(470, 331, "Patients (increasing risk score)")
label(302, 325, "Hazard ratio", size=11)
label(11, 418, "Survival probability (%)", angle=-90)
label(110, 506, "Time (year)", size=11)
label(196, 421, "Sensitivity", angle=-90)
label(293, 512, "1-Specificity", size=10)
label(380, 426, "Risk score", size=10, angle=-90)
label(380, 585, "Time (years)", size=10, angle=-90)
label(469, 681, "Patients (increasing risk score)")
label(11, 593, "Survival probability (%)", angle=-90)
label(110, 680, "Time (year)", size=11)
label(196, 592, "Sensitivity", angle=-90)
label(293, 684, "1-Specificity", size=10)


def legend_rows(x, ys, cols, sym, texts, size):
    for y, c, t in zip(ys, cols, texts):
        label(x, y, '<span style="color:%s">%s</span> %s' % (c, sym, t), size=size, anchor="left")


legend_rows(396, [25, 34], [C_HIGH, C_LOW], "\u25cf", ["High risk", "Low risk"], 8)
legend_rows(396, [180, 189], [C_DEAD, C_ALIVE], "\u25cf", ["Dead", "Alive"], 8)
legend_rows(396, [364, 373], [C_HIGH, C_LOW], "\u25cf", ["High risk", "Low risk"], 8)
legend_rows(394, [520, 529], [C_DEAD, C_ALIVE], "\u25cf", ["Dead", "Alive"], 8)
legend_rows(133, [364, 369.5], [KM_HIGH, KM_LOW], "\u2014", ["High risk", "Low risk"], 5.5)
legend_rows(134, [538, 543.5], [KM_HIGH, KM_LOW], "\u2014", ["High risk", "Low risk"], 5.5)
legend_rows(264, [468, 477.5, 487], ROC_COLS, "\u2014\u2014", roc_years, 7.5)
legend_rows(264, [630, 639.5, 649], ROC_COLS, "\u2014\u2014", roc_years, 7.5)
for ys, vals in [([468, 477.5, 487], auc_f), ([630, 639.5, 649], auc_i)]:
    for y, v in zip(ys, vals):
        label(362, y, v, size=7.5, anchor="right")

fig.update_layout(
    width=W, height=H, margin=dict(l=0, r=0, t=0, b=0),
    paper_bgcolor="white", plot_bgcolor="white", showlegend=False,
    font=dict(family=FONT, color="black"),
    annotations=annotations, shapes=shapes, **lay)

# the page body has a default margin; drop it so the figure fills the window exactly
fig.write_html("out.html", config={"displayModeBar": False},
               post_script="document.body.style.margin='0';document.body.style.overflow='hidden';")
